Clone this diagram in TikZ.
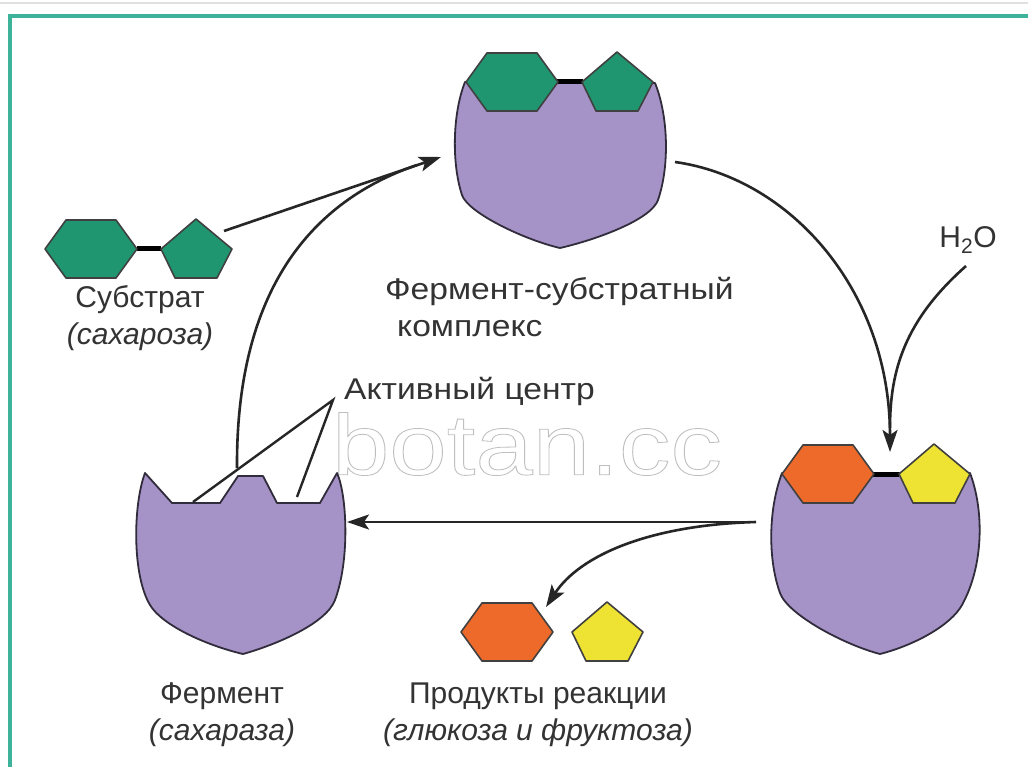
\documentclass[tikz,border=0pt]{standalone}
\usepackage{fontspec}
\setmainfont{Liberation Sans}
\usetikzlibrary{arrows.meta}
\definecolor{framegreen}{HTML}{3DB39A}
\definecolor{sugargreen}{HTML}{1F9670}
\definecolor{enzyme}{HTML}{A592C6}
\definecolor{glucose}{HTML}{EE6A2A}
\definecolor{fructose}{HTML}{EEE332}
\definecolor{ink}{HTML}{333333}

% six-sided ring: centre x, centre y, fill colour
\newcommand\hexring[3]{\draw[sugar,fill=#3] ({#1-46},#2) -- ({#1-25},{#2-29}) -- ({#1+25},{#2-29}) -- ({#1+46},#2) -- ({#1+25},{#2+29}) -- ({#1-25},{#2+29}) -- cycle;}
% five-sided ring: centre x, y of widest row, fill colour
\newcommand\pentring[3]{\draw[sugar,fill=#3] (#1,{#2-30}) -- ({#1+36},#2) -- ({#1+21},{#2+29}) -- ({#1-21},{#2+29}) -- ({#1-35},#2) -- cycle;}

\begin{document}
\begin{tikzpicture}[x=1pt,y=-1pt,
  body/.style={draw=black!70!enzyme, line width=1.8pt, fill=enzyme, line join=round},
  sugar/.style={draw=black!75, line width=1.6pt, line join=round},
  bond/.style={line width=5pt, draw=black},
  flow/.style={draw=black!85, line width=2.6pt, -{Stealth[length=22pt,width=15pt,inset=5pt]}},
  plainline/.style={draw=black!85, line width=2.6pt},
  pointer/.style={draw=black!85, line width=2.4pt, line join=miter},
  txt/.style={font=\fontsize{30}{37}\selectfont, text=ink, align=center, inner sep=0pt},
]
\useasboundingbox (0,0) rectangle (1028,767);
\fill[white] (0,0) rectangle (1028,767);

% page edge and frame
\draw[black!12, line width=2pt] (0,3) -- (1028,3);
\draw[framegreen, line width=3.5pt] (10,767) -- (10,16) -- (1028,16);

% watermark
\node[font=\fontsize{86}{90}\selectfont, text=black!25, inner sep=0pt] (mark) at (527,444)
  {\scalebox{1.2}[1]{\special{pdf:literal direct 1 Tr 0.8 w}botan.cc\special{pdf:literal direct 0 Tr}}};

% connector end points
\coordinate (subTail) at (224,231);
\coordinate (tipTop) at (441,157);
\coordinate (enzTop) at (237,468);
\coordinate (arcJoin) at (417,165);
\coordinate (cplxOut) at (675,162);
\coordinate (tipRight) at (890,452);
\coordinate (waterTail) at (966,266);
\coordinate (waterJoin) at (890,428);
\coordinate (splitTail) at (756,522);
\coordinate (tipEnz) at (347,522);
\coordinate (tipProd) at (546,607);
\coordinate (apex) at (333,400);
\coordinate (siteA) at (193,502);
\coordinate (siteB) at (297,497);

% cycle arrows
\draw[plainline] (enzTop) .. controls (236,300) and (303,204) .. (arcJoin);
\draw[flow] (subTail) -- (tipTop);
\draw[flow] (cplxOut) .. controls (790,178) and (890,290) .. (tipRight);
\draw[plainline] (waterTail) .. controls (905,320) and (890,370) .. (waterJoin);
\draw[flow] (splitTail) -- (tipEnz);
\draw[flow] (splitTail) .. controls (650,525) and (580,555) .. (tipProd);

% free enzyme with its active centre
\draw[body] (145,473) -- (172,503) -- (220,503) -- (238,476) -- (263,476) -- (277,503) -- (320,503) -- (337,473)
  .. controls (347,495) and (350,560) .. (335,600)
  .. controls (326,624) and (275,645) .. (243,654)
  .. controls (205,645) and (162,625) .. (150,605)
  .. controls (132,575) and (133,505) .. (145,473) -- cycle;
\draw[pointer] (siteA) -- (apex) -- (siteB);

% substrate: sucrose
\draw[bond] (137,249) -- (161,249);
\hexring{91}{249}{sugargreen}
\pentring{196}{249}{sugargreen}

% enzyme-substrate complex
\draw[body] (465,82) .. controls (452,115) and (452,165) .. (462,195)
  .. controls (468,213) and (525,240) .. (560,248)
  .. controls (595,240) and (651,220) .. (658,200)
  .. controls (670,165) and (668,115) .. (655,83) -- cycle;
\draw[bond] (557,82) -- (583,82);
\hexring{512}{82}{sugargreen}
\pentring{617}{82}{sugargreen}

% complex after hydrolysis
\draw[body] (782,473) .. controls (768,510) and (768,560) .. (780,593)
  .. controls (788,615) and (845,645) .. (880,654)
  .. controls (915,645) and (951,625) .. (962,605)
  .. controls (984,565) and (984,510) .. (970,473) -- cycle;
\draw[bond] (873,474) -- (899,474);
\hexring{828}{474}{glucose}
\pentring{934}{474}{fructose}

% released products
\hexring{507}{632}{glucose}
\pentring{607}{632}{fructose}

% labels
\node[txt] (subLabel) at (140,318) {Субстрат\\\textit{(сахароза)}};
\node[txt, align=left, anchor=west] (cplxLabel) at (385,307)
  {\scalebox{1.12}[1]{Фермент-субстратный}\\\hspace*{12pt}\scalebox{1.12}[1]{комплекс}};
\node[txt, anchor=west] (siteLabel) at (344,391) {\scalebox{1.12}[1]{Активный центр}};
\node[txt] (water) at (968,240) {H\textsubscript{2}O};
\node[txt] (enzLabel) at (222,715) {Фермент\\\textit{(сахараза)}};
\node[txt] (prodLabel) at (538,715) {Продукты реакции\\\textit{(глюкоза и фруктоза)}};
\end{tikzpicture}
\end{document}
